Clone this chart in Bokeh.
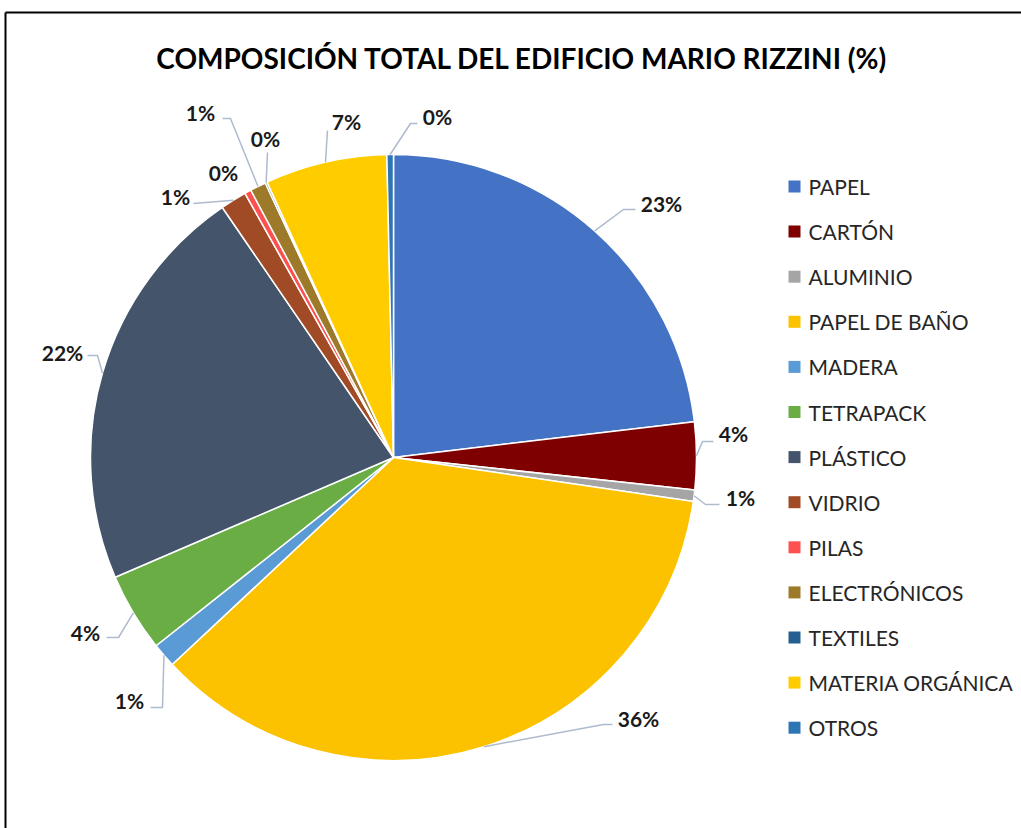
import math
from bokeh.plotting import figure
from bokeh.models import Range1d, ColumnDataSource
from bokeh.core.properties import value
from bokeh.embed import file_html
from bokeh.resources import INLINE

# ---------------- data ----------------
title_text = "COMPOSICIÓN TOTAL DEL EDIFICIO MARIO RIZZINI (%)"
categories = ["PAPEL", "CARTÓN", "ALUMINIO", "PAPEL DE BAÑO", "MADERA", "TETRAPACK",
              "PLÁSTICO", "VIDRIO", "PILAS", "ELECTRÓNICOS", "TEXTILES",
              "MATERIA ORGÁNICA", "OTROS"]
values = [23.1, 3.6, 0.6, 35.7, 1.3, 4.2, 21.9, 1.4, 0.35, 0.85, 0.1, 6.5, 0.35]
colors = ["#4472C4", "#7F0000", "#A5A5A5", "#FCC200", "#5B9BD5", "#6BAD45",
          "#44546A", "#A14B26", "#FF5050", "#9C7A2A", "#255E91",
          "#FFCC00", "#2E75B6"]

# ---------------- layout (screen pixels) ----------------
W, H = 1021, 828
def X(sx):
    return sx
def Y(sy):
    return H - sy

CX, CY, R = 393, 457, 303
# label centers (screen) and leader elbow points (screen)
label_pos = [(661, 203), (733, 433), (740, 497), (638, 718), (129, 700), (85, 632),
             (62, 352), (175, 196), (223, 172), (200, 112), (265, 138), (346, 121),
             (437, 116)]
leader_pts = [
    [(623, 209), (635, 209)],
    [(702, 441), (713, 441)],
    [(705, 504), (719, 504)],
    [(603, 724), (612, 724)],
    [(162, 707), (150, 707)],
    [(118, 637), (106, 637)],
    [(97, 355), (87, 355)],
    [(193, 203)],
    None,
    [(230, 118), (222, 118)],
    [(267, 152)],
    [(327, 130)],
    [(410, 123), (417, 123)],
]

p = figure(width=W, height=H, x_range=Range1d(0, W), y_range=Range1d(0, H),
           output_backend="svg", toolbar_location=None, min_border=0,
           x_axis_type=None, y_axis_type=None, outline_line_color=None)
p.grid.visible = False
p.background_fill_color = "white"
p.border_fill_color = "white"

# frame (cropped chart border)
p.segment(x0=[X(5), X(5)], y0=[Y(12), Y(12)], x1=[X(1030), X(5)], y1=[Y(12), Y(840)],
          line_color="black", line_width=2)

# pie
total = sum(values)
starts, ends, mids = [], [], []
cum = 0.0
for v in values:
    a0 = cum / total * 2 * math.pi
    cum += v
    a1 = cum / total * 2 * math.pi
    starts.append(math.pi / 2 - a0)
    ends.append(math.pi / 2 - a1)
    mids.append((a0 + a1) / 2)

src = ColumnDataSource(dict(start=starts, end=ends, color=colors, cat=categories))
p.wedge(x=X(CX), y=Y(CY), radius=R, radius_units="screen", start_angle="start",
        end_angle="end", direction="clock", fill_color="color", line_color="white",
        line_width=1.5, source=src)

# leaders
lx, ly = [], []
for m, pts in zip(mids, leader_pts):
    if pts is None:
        continue
    sx0 = CX + R * math.sin(m)
    sy0 = CY - R * math.cos(m)
    xs = [X(sx0)] + [X(q[0]) for q in pts]
    ys = [Y(sy0)] + [Y(q[1]) for q in pts]
    lx.append(xs)
    ly.append(ys)
p.multi_line(xs=lx, ys=ly, line_color="#AEBBCD", line_width=1.5)

# labels
labels = [f"{int(v / total * 100 + 0.5)}%" for v in values]
p.text(x=[X(q[0]) for q in label_pos], y=[Y(q[1]) for q in label_pos], text=labels,
       text_font=value("Lato"), text_font_style="bold", text_font_size="21px",
       text_align="center", text_baseline="middle", text_color="#1a1a1a")

# title
p.text(x=[X(522)], y=[Y(57)], text=[title_text], text_font=value("Lato"),
       text_font_style="bold", text_font_size="28px", text_align="center",
       text_baseline="middle", text_color="black")

# legend
ly0, dly = 186, 45.1
leg_y = [Y(ly0 + dly * i) for i in range(len(categories))]
p.scatter(x=[X(794)] * len(categories), y=leg_y, marker="square", size=12,
          fill_color=colors, line_color=None)
p.text(x=[X(808)] * len(categories), y=leg_y, text=categories, text_font=value("Lato"),
       text_font_size="21px", text_align="left", text_baseline="middle",
       text_color="#262626")

open("out.html", "w").write(file_html(p, INLINE))
